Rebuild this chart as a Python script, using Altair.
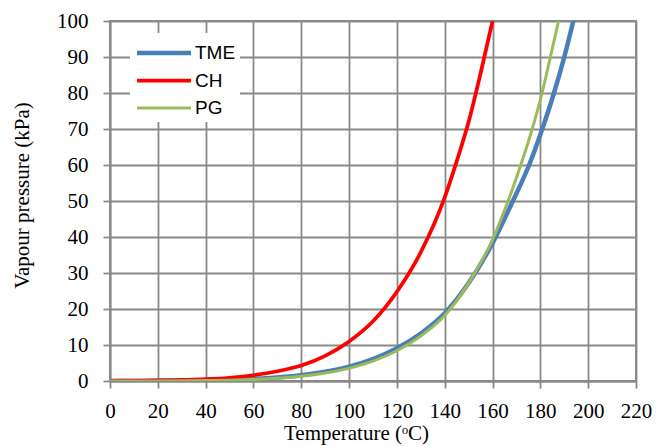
import altair as alt
import pandas as pd

tme_t = [0, 20, 40, 60, 80, 90, 100, 110, 120, 130, 140, 150, 160, 168.5, 175.3, 180.8, 185.7, 190.0, 193.8]
tme_p = [0.02, 0.06, 0.2, 0.6, 1.6, 2.6, 4.0, 6.1, 9.1, 13.2, 18.8, 27.2, 38.3, 50, 60, 70, 80, 90, 100]

ch_t = [0, 10, 20, 30, 40, 50, 60, 70, 80, 90, 100, 110, 120, 130, 140, 145, 150, 155, 160]
ch_p = [0.05, 0.1, 0.15, 0.3, 0.5, 0.9, 1.6, 2.7, 4.3, 7.0, 11, 16.6, 24.8, 35.8, 51, 61, 72, 85.5, 100]

pg_t = [0, 20, 40, 60, 80, 90, 100, 110, 120, 130, 140, 150, 160, 166.5, 171.8, 176.6, 180.7, 184.2, 187.6]
pg_p = [0.01, 0.03, 0.12, 0.4, 1.3, 2.2, 3.5, 5.5, 8.4, 12.5, 18.2, 27.2, 39.3, 50, 60, 70, 80, 90, 100]

series = ["TME", "CH", "PG"]
colors = ["#4A7EBB", "#FF0000", "#9BBB59"]
widths = [4.5, 3, 2.7]

rows = []
for i, (name, ts, ps) in enumerate(zip(series, [tme_t, ch_t, pg_t], [tme_p, ch_p, pg_p])):
    for t, p in zip(ts, ps):
        rows.append({"series": name, "order": i, "T": t, "P": p})
df = pd.DataFrame(rows)

grid = "#898989"
serif = "Liberation Serif"

common = dict(labelFont=serif, labelFontSize=21, labelColor="black",
              titleFont=serif, titleFontSize=21, titleFontWeight="normal",
              titleColor="black", tickSize=7,
              domainColor=grid, tickColor=grid, gridColor=grid, gridWidth=1.8,
              domainWidth=1.8, tickWidth=1.8, labelFlush=False)

chart = alt.Chart(df).mark_line(interpolate="monotone", clip=True).encode(
    x=alt.X("T:Q", scale=alt.Scale(domain=[0, 220], nice=False),
            axis=alt.Axis(values=list(range(0, 221, 20)), title="Temperature (ᵒC)",
                          labelPadding=12, titleX=246, titleY=58,
                          titleBaseline="alphabetic", **common)),
    y=alt.Y("P:Q", scale=alt.Scale(domain=[0, 100], nice=False),
            axis=alt.Axis(values=list(range(0, 101, 10)), title="Vapour pressure (kPa)",
                          labelPadding=15, titleX=-88, titleY=174,
                          titleBaseline="middle", **common)),
    color=alt.Color("series:N", scale=alt.Scale(domain=series, range=colors),
                    legend=alt.Legend(title=None, orient="none", legendX=20, legendY=12,
                                      symbolType="M-2,0H2", symbolSize=729, symbolOffset=14,
                                      labelFont="Liberation Sans", labelFontSize=19,
                                      labelColor="black", fillColor="white", padding=4,
                                      rowPadding=2, labelOffset=15,
                                      labelExpr="datum.label + '\u00a0\u00a0\u00a0\u00a0\u00a0\u00a0\u00a0'")),
    strokeWidth=alt.StrokeWidth("series:N", scale=alt.Scale(domain=series, range=widths), legend=None),
    order=alt.Order("order:Q"),
    detail="series:N",
).properties(
    width=526, height=360,
    autosize=alt.AutoSizeParams(type="none"),
    padding={"left": 102, "top": 13, "right": 21, "bottom": 65},
).configure_view(stroke=grid, strokeWidth=1.8)

chart.save("out.html", embed_options={"renderer": "svg", "actions": False})
